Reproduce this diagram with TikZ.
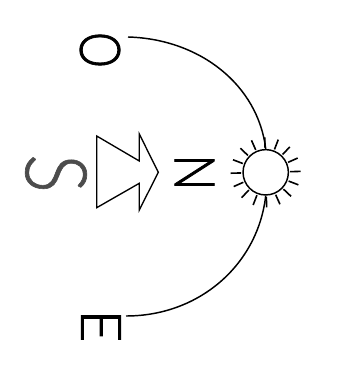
\documentclass[tikz,border=0pt]{standalone}
\usepackage{fontspec}
\setmainfont{Lato Light}
\newfontfamily\letterfont{Lato Light}[RawFeature={embolden=1.5}]
\newfontfamily\southfont{Lato Light}[RawFeature={embolden=0.8}]
\begin{document}
\begin{tikzpicture}[x=0.75pt,y=-0.75pt,line join=miter,
    letternode/.style={inner sep=0pt,rotate=-90,font=\letterfont\fontsize{40}{40}\selectfont},
    sunray/.style={line width=1.2pt},
    sunarc/.style={line width=1.1pt}]
  \useasboundingbox (0,0) rectangle (336,384);
  % letters
  \node[letternode,xscale=0.85,yscale=1.05] (west) at (100,50) {O};
  \node[letternode,xscale=1.05,yscale=1.05] (east) at (101,326) {E};
  \node[letternode,xscale=0.9,yscale=1.05] (north) at (194.5,172.5) {N};
  \node[letternode,xscale=1.35,yscale=1.6,text=black!70,font=\southfont\fontsize{40}{40}\selectfont] (south) at (56,173.5) {S};
  % sun
  \node[circle,draw,line width=1.1pt,minimum size=34pt,inner sep=0pt] (sun) at (265.7,172.3) {};
  \foreach \a in {-1.5,21,...,336}
    \draw[sunray] (265.7,172.3) ++(\a:24.5) -- ++(\a:10.5);
  % path of the sun
  \coordinate (arcwest) at (128,37);
  \coordinate (arceast) at (126,316);
  \draw[sunarc] (arcwest) .. controls (200,39) and (258,85) .. (sun.north);
  \draw[sunarc] (arceast) .. controls (200,316) and (258,264) .. (sun.south);
  % arrow
  \draw[line width=1pt,line join=miter] (96.7,136)--(139.3,161)--(139.3,134)--(158.3,172.3)--(139.3,210)--(139.3,183.3)--(96.7,207.7)--cycle;
\end{tikzpicture}
\end{document}
